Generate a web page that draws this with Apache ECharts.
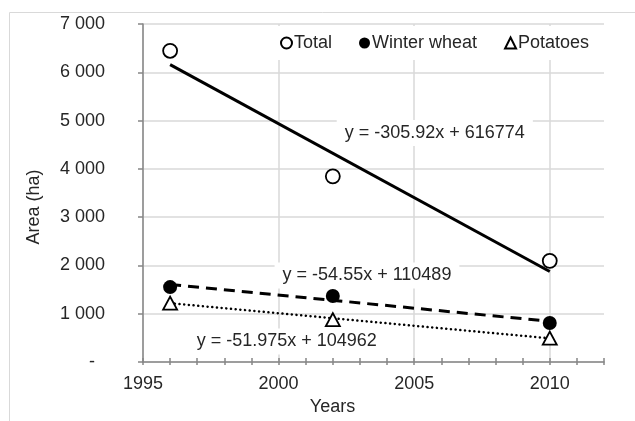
<!DOCTYPE html>
<html>
<head>
<meta charset="utf-8">
<script src="https://cdn.jsdelivr.net/npm/echarts@6/dist/echarts.min.js"></script>
<style>
  html, body { margin: 0; padding: 0; background: #fff; }
  #chart { width: 635px; height: 421px; }
</style>
</head>
<body>
<div id="chart"></div>
<script>
// data
const years = [1996, 2002, 2010];
const total = [6445, 3846, 2096];
const winterWheat = [1553, 1370, 808];
const potatoes = [1220, 880, 495];

const seriesNames = ["Total", "Winter wheat", "Potatoes"];
const slopes = [-305.92, -54.55, -51.975];
const intercepts = [616774, 110489, 104962];

const yTicks = [0, 1000, 2000, 3000, 4000, 5000, 6000, 7000];

const textColor = "#262626";
const axisGray = "#868686";
const gridGray = "#d9d9d9";
const font = "Liberation Sans, Arial, sans-serif";

const chart = echarts.init(document.getElementById("chart"));

function points(values) {
  return years.map((y, i) => [y, values[i]]);
}

// trend line end points from the fitted equations shown on the chart
function trend(i) {
  const x0 = years[0];
  const x1 = years[years.length - 1];
  return [
    [x0, slopes[i] * x0 + intercepts[i]],
    [x1, slopes[i] * x1 + intercepts[i]],
  ];
}

function equation(i) {
  return "y = " + slopes[i] + "x + " + intercepts[i];
}

// where the equation boxes sit, in data coordinates
const eqLabelAt = [
  [2005.76, 4741],
  [2003.26, 1795],
  [2000.3, 427],
];

const lineStyles = [
  { color: "#000", width: 3, type: "solid" },
  { color: "#000", width: 3, type: [11, 7] },
  { color: "#000", width: 2.5, type: [0.1, 4.6], cap: "round" },
];

const tickAxis = (inside, len) => ({
  type: "value",
  position: "bottom",
  min: 1995,
  max: 2012,
  interval: 1,
  axisLine: { show: false },
  axisLabel: { show: false },
  splitLine: { show: false },
  axisTick: { show: true, inside: inside, length: len, lineStyle: { color: axisGray, width: 1.5 } },
});

const option = {
  animation: false,
  textStyle: { fontFamily: font },
  grid: { left: 143, right: 31, top: 24, bottom: 53 },
  graphic: [
    {
      type: "rect",
      left: 7,
      top: 10,
      shape: { width: 660, height: 440 },
      style: { fill: "none", stroke: gridGray, lineWidth: 1 },
      silent: true,
      z: -10,
    },
  ],
  legend: {
    data: seriesNames,
    left: 272,
    top: 26,
    padding: [8, 6, 8, 8],
    backgroundColor: "#fff",
    itemGap: 27,
    itemWidth: 11,
    itemHeight: 11,
    textStyle: { fontSize: 18, color: textColor, fontFamily: font, padding: [0, 0, 0, -3] },
    z: 5,
  },
  xAxis: [
    {
      type: "value",
      position: "bottom",
      min: 1995,
      max: 2012,
      interval: 5,
      name: "Years",
      nameLocation: "middle",
      nameGap: 31,
      nameTextStyle: { fontSize: 18, color: textColor, padding: [0, 82, 0, 0] },
      axisLine: { show: true, lineStyle: { color: axisGray, width: 1.5 } },
      axisTick: { show: false },
      axisLabel: { fontSize: 18, color: textColor, margin: 13, showMaxLabel: false, formatter: (v) => String(v) },
      splitLine: { show: true, showMaxLine: false, lineStyle: { color: gridGray, width: 1.5 } },
    },
    tickAxis(false, 3),
    tickAxis(true, 4),
  ],
  yAxis: {
    type: "value",
    min: yTicks[0],
    max: yTicks[yTicks.length - 1],
    interval: 1000,
    name: "Area (ha)",
    nameLocation: "middle",
    nameGap: 100,
    nameTextStyle: { fontSize: 18, color: textColor, padding: [0, 28, 0, 0] },
    axisLine: { show: true, lineStyle: { color: axisGray, width: 1.5 } },
    axisTick: { show: true, length: 5, lineStyle: { color: axisGray, width: 1.5 } },
    axisLabel: {
      fontSize: 18,
      color: textColor,
      margin: 38,
      formatter: (v) => (v === 0 ? "-  " : String(v).replace(/\B(?=(\d{3})+(?!\d))/g, " ")),
    },
    splitLine: { show: true, lineStyle: { color: gridGray, width: 1.5 } },
  },
  series: [
    ...[total, winterWheat, potatoes].map((vals, i) => ({
      name: seriesNames[i],
      type: "scatter",
      z: 3,
      data: points(vals),
      symbol: i === 2 ? "triangle" : "circle",
      symbolSize: i === 2 ? [14, 13] : 14,
      itemStyle:
        i === 1
          ? { color: "#000", opacity: 1 }
          : { color: "#fff", borderColor: "#000", borderWidth: 1.8, opacity: 1 },
    })),
    ...[0, 1, 2].map((i) => ({
      name: seriesNames[i] + " trend",
      type: "line",
      z: 2,
      silent: true,
      showSymbol: false,
      data: trend(i),
      lineStyle: lineStyles[i],
    })),
    {
      name: "equations",
      type: "scatter",
      z: 6,
      silent: true,
      symbolSize: 0,
      itemStyle: { opacity: 1 },
      data: eqLabelAt.map((p, i) => ({ value: p, eq: equation(i) })),
      label: {
        show: true,
        position: "inside",
        formatter: (p) => p.data.eq,
        fontSize: 18,
        color: textColor,
        opacity: 1,
        backgroundColor: "#fff",
        padding: [4, 8],
      },
    },
  ],
};

chart.setOption(option);
</script>
</body>
</html>
